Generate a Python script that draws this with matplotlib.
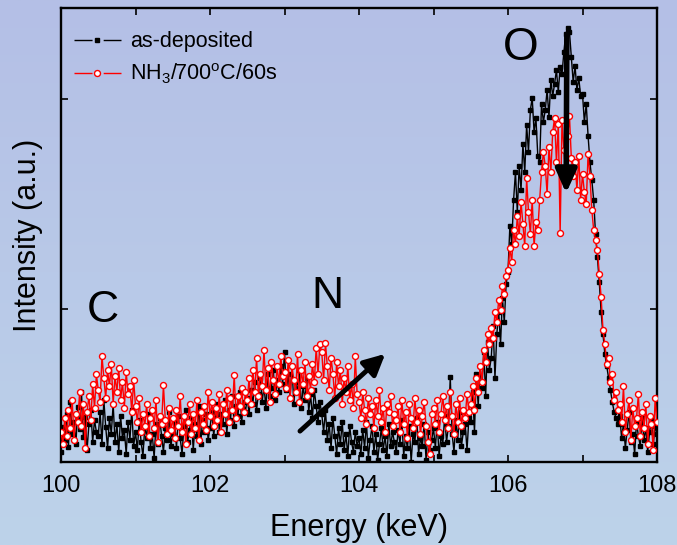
"""
RBS-style O / N / C spectrum: as-deposited vs NH3 anneal (700 C, 60 s).
Values are read off the reference picture (arbitrary intensity units).
"""
import numpy as np
import matplotlib
matplotlib.use("Agg")
import matplotlib.pyplot as plt
from matplotlib.colors import LinearSegmentedColormap
from matplotlib.lines import Line2D

plt.rcParams["font.family"] = ["Liberation Sans", "DejaVu Sans"]
plt.rcParams["mathtext.fontset"] = "custom"
plt.rcParams["mathtext.rm"] = "Liberation Sans"
plt.rcParams["mathtext.default"] = "regular"

E_START, E_STEP = 100.0, 0.025

# as-deposited (black), 20 points per 0.5 keV
as_dep = [
    10, 35, 22, 48, 15, 60, 28, 40, 18, 55, 33, 70, 25, 45, 12, 38, 52, 20, 42, 30,
    26, 50, 18, 62, 35, 14, 44, 28, 58, 20, 38, 10, 46, 24, 32, 8, 40, 22, 52, 16,
    30, 12, 42, 20, 6, 36, 24, 48, 14, 28, 4, 38, 18, 44, 26, 10, 34, 22, 50, 16,
    28, 40, 14, 46, 24, 8, 36, 52, 20, 32, 44, 12, 38, 26, 56, 18, 42, 30, 48, 22,
    34, 50, 26, 44, 58, 30, 48, 38, 62, 28, 52, 42, 66, 36, 56, 46, 70, 40, 60, 50,
    64, 48, 72, 58, 80, 52, 68, 84, 60, 76, 54, 88, 66, 74, 92, 62, 82, 70, 96, 78,
    110, 72, 88, 64, 96, 58, 80, 70, 92, 54, 76, 62, 84, 50, 68, 44, 72, 56, 40, 60,
    48, 30, 52, 22, 38, 14, 44, 26, 8, 34, 18, 40, 12, 28, 6, 36, 20, 10, 30, 16,
    24, 8, 32, 14, 40, 4, 22, 36, 10, 28, 2, 18, 34, 12, 26, 6, 38, 16, 30, 20,
    10, 32, 18, 42, 6, 26, 14, 36, 0, 28, 20, 44, 8, 24, 16, 38, 2, 30, 12, 22,
    34, 14, 40, 6, 26, 18, 46, 20, 36, 85, 28, 10, 42, 22, 50, 16, 30, 38, 12, 44,
    40, 70, 30, 88, 56, 96, 74, 110, 66, 120, 92, 104, 136, 84, 128, 150, 118, 164, 140, 178,
    190, 236, 218, 262, 290, 250, 296, 272, 318, 290, 337, 310, 352, 364, 330, 344, 306, 300, 358, 340,
    352, 372, 345, 382, 366, 378, 392, 370, 395, 388, 410, 428, 434, 430, 405, 380, 396, 372, 384, 366,
    368, 340, 358, 326, 300, 282, 262, 228, 205, 180, 150, 128, 108, 96, 84, 72, 60, 50, 44, 38,
    46, 24, 38, 14, 32, 50, 20, 28, 8, 40, 26, 16, 44, 22, 34, 10, 30, 42, 18, 36,
    28,
]

# NH3 / 700 C / 60 s (red)
nh3 = [
    30, 18, 44, 26, 52, 34, 62, 22, 48, 40, 70, 36, 58, 14, 50, 66, 42, 78, 54, 88,
    72, 60, 106, 84, 64, 92, 76, 98, 58, 86, 70, 94, 62, 80, 54, 90, 68, 76, 50, 82,
    56, 40, 64, 30, 48, 36, 58, 26, 44, 52, 34, 62, 20, 46, 38, 77, 42, 28, 54, 32,
    44, 24, 52, 36, 66, 30, 46, 18, 40, 58, 28, 48, 34, 62, 22, 50, 38, 56, 32, 70,
    46, 60, 36, 54, 42, 68, 30, 58, 48, 72, 40, 64, 52, 87, 44, 66, 56, 74, 50, 70,
    62, 84, 58, 92, 70, 104, 66, 88, 76, 112, 72, 94, 60, 100, 82, 68, 96, 78, 106, 86,
    90, 74, 102, 64, 96, 82, 70, 108, 60, 92, 78, 100, 66, 86, 72, 98, 80, 114, 88, 118,
    110, 82, 119, 96, 72, 104, 88, 64, 100, 76, 92, 58, 84, 70, 96, 62, 78, 54, 106, 68,
    60, 44, 70, 52, 38, 64, 48, 56, 34, 62, 46, 72, 40, 54, 30, 58, 50, 66, 36, 48,
    42, 56, 30, 62, 38, 50, 24, 58, 44, 34, 64, 40, 52, 28, 46, 60, 36, 20, 8, 48,
    54, 38, 62, 30, 48, 66, 42, 56, 34, 70, 46, 28, 58, 40, 64, 36, 52, 44, 68, 50,
    58, 76, 52, 84, 70, 96, 80, 112, 100, 128, 118, 134, 124, 150, 140, 162, 152, 176, 168, 186,
    192, 214, 200, 232, 218, 246, 226, 260, 238, 216, 284, 250, 228, 262, 216, 240, 232, 262, 290, 310,
    296, 268, 315, 290, 330, 344, 300, 338, 229, 342, 312, 290, 326, 346, 304, 286, 300, 272, 306, 262,
    288, 270, 258, 308, 286, 252, 232, 222, 212, 188, 165, 132, 118, 98, 104, 80, 88, 62, 70, 52,
    58, 40, 76, 30, 48, 62, 22, 54, 36, 44, 68, 26, 50, 34, 58, 18, 46, 38, 12, 64,
    40,
]

energy = E_START + E_STEP * np.arange(len(as_dep))

x_ticks = [100, 101, 102, 103, 104, 105, 106, 107, 108]
x_ticklabels = ["100", "", "102", "", "104", "", "106", "", "108"]
y_ticks = [153, 363]

fig = plt.figure(figsize=(6.77, 5.45), dpi=100)

# light blue gradient background
bg = fig.add_axes([0, 0, 1, 1], zorder=-1)
cmap = LinearSegmentedColormap.from_list("bg", ["#b4bfe6", "#bdd3ea"])
bg.imshow(np.linspace(0, 1, 256).reshape(-1, 1), aspect="auto", cmap=cmap,
          extent=[0, 1, 0, 1])
bg.axis("off")

ax = fig.add_axes([61 / 677, 83 / 545, 596 / 677, 454 / 545])
ax.patch.set_alpha(0)

ax.plot(energy, as_dep, color="black", lw=1.0, marker="s", ms=3.5,
        mfc="black", mec="black", zorder=2)
ax.plot(energy, nh3, color="red", lw=1.0, marker="o", ms=4.3, mew=1.0,
        mfc="white", mec="red", zorder=3)

ax.set_xlim(100, 108)
ax.set_ylim(0, 454)
ax.set_xticks(x_ticks)
ax.set_xticklabels(x_ticklabels)
ax.set_yticks(y_ticks)
ax.set_yticklabels([])
ax.tick_params(direction="in", length=5, width=1.2, labelsize=17, pad=9,
               top=True, right=True)
for s in ax.spines.values():
    s.set_linewidth(1.7)

ax.set_xlabel("Energy (keV)", fontsize=22, labelpad=12)
ax.set_ylabel("Intensity (a.u.)", fontsize=22, labelpad=4)

# Origin-style legend handles: segment, marker, segment
gap_ls = (0, (13, 8))
handles = [
    Line2D([], [], color="black", lw=1.0, ls=gap_ls, marker="s", ms=3.5,
           mfc="black", mec="black"),
    Line2D([], [], color="red", lw=1.0, ls=gap_ls, marker="o", ms=4.3,
           mfc="white", mec="red"),
]
labels = ["as-deposited", "NH$_3$/700$^{o}$C/60s"]
ax.legend(handles, labels, loc="upper left", frameon=False, fontsize=15.5,
          numpoints=1, handlelength=2.2, handletextpad=0.4, labelspacing=0.45,
          bbox_to_anchor=(0.007, 0.968), borderaxespad=0)

ax.text(100.56, 151, "C", fontsize=32, ha="center", va="center")
ax.text(103.58, 165, "N", fontsize=32, ha="center", va="center")
ax.text(106.17, 414, "O", fontsize=33, ha="center", va="center")

ax.annotate("", xy=(104.38, 110), xytext=(103.18, 29),
            arrowprops=dict(arrowstyle="-|>,head_length=0.9,head_width=0.45",
                            lw=3.5, color="black", mutation_scale=14))
ax.annotate("", xy=(106.78, 266), xytext=(106.79, 430),
            arrowprops=dict(arrowstyle="-|>,head_length=1.0,head_width=0.45",
                            lw=4, color="black", mutation_scale=14), zorder=4)

fig.savefig("out.png", dpi=100)
